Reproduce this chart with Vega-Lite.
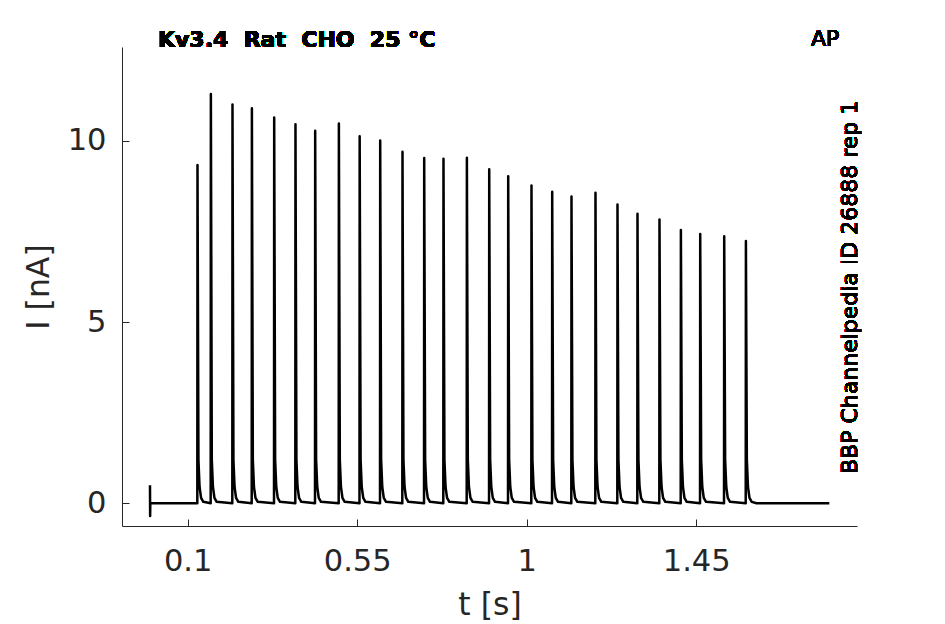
{
  "$schema": "https://vega.github.io/schema/vega-lite/v6.json",
  "autosize": {"type": "none"},
  "padding": {"left": 122, "top": 47, "right": 88, "bottom": 98},
  "width": 735,
  "height": 479,
  "background": "white",
  "config": {
    "view": {"stroke": null},
    "font": "DejaVu Sans",
    "axis": {
      "grid": false,
      "domainColor": "#262626",
      "domainWidth": 1,
      "tickColor": "#262626",
      "tickWidth": 1,
      "tickSize": -7,
      "labelColor": "#262626",
      "labelFont": "DejaVu Sans",
      "labelFontSize": 30.5,
      "titleColor": "#262626",
      "titleFont": "DejaVu Sans",
      "titleFontSize": 31.5,
      "titleFontWeight": "normal"
    }
  },
  "data": {
    "values": [
      {"t": 0, "i": 0.5}, {"t": 0.0004, "i": -0.35}, {"t": 0.0008, "i": 0},
      {"t": 0.1256, "i": 0}, {"t": 0.1261, "i": 9.34}, {"t": 0.1286, "i": 1.2}, {"t": 0.1316, "i": 0.45}, {"t": 0.1356, "i": 0.15}, {"t": 0.1416, "i": 0.04},
      {"t": 0.1611, "i": 0}, {"t": 0.1616, "i": 11.3}, {"t": 0.1641, "i": 1.2}, {"t": 0.1671, "i": 0.45}, {"t": 0.1711, "i": 0.15}, {"t": 0.1771, "i": 0.04},
      {"t": 0.2185, "i": 0}, {"t": 0.219, "i": 11.01}, {"t": 0.2215, "i": 1.2}, {"t": 0.2245, "i": 0.45}, {"t": 0.2285, "i": 0.15}, {"t": 0.2345, "i": 0.04},
      {"t": 0.27, "i": 0}, {"t": 0.2705, "i": 10.9}, {"t": 0.273, "i": 1.2}, {"t": 0.276, "i": 0.45}, {"t": 0.28, "i": 0.15}, {"t": 0.286, "i": 0.04},
      {"t": 0.3292, "i": 0}, {"t": 0.3297, "i": 10.65}, {"t": 0.3322, "i": 1.2}, {"t": 0.3352, "i": 0.45}, {"t": 0.3392, "i": 0.15}, {"t": 0.3452, "i": 0.04},
      {"t": 0.3857, "i": 0}, {"t": 0.3862, "i": 10.46}, {"t": 0.3887, "i": 1.2}, {"t": 0.3917, "i": 0.45}, {"t": 0.3957, "i": 0.15}, {"t": 0.4017, "i": 0.04},
      {"t": 0.438, "i": 0}, {"t": 0.4385, "i": 10.28}, {"t": 0.441, "i": 1.2}, {"t": 0.444, "i": 0.45}, {"t": 0.448, "i": 0.15}, {"t": 0.454, "i": 0.04},
      {"t": 0.5009, "i": 0}, {"t": 0.5014, "i": 10.48}, {"t": 0.5039, "i": 1.2}, {"t": 0.5069, "i": 0.45}, {"t": 0.5109, "i": 0.15}, {"t": 0.5169, "i": 0.04},
      {"t": 0.5561, "i": 0}, {"t": 0.5566, "i": 10.13}, {"t": 0.5591, "i": 1.2}, {"t": 0.5621, "i": 0.45}, {"t": 0.5661, "i": 0.15}, {"t": 0.5721, "i": 0.04},
      {"t": 0.6106, "i": 0}, {"t": 0.6111, "i": 10.01}, {"t": 0.6136, "i": 1.2}, {"t": 0.6166, "i": 0.45}, {"t": 0.6206, "i": 0.15}, {"t": 0.6266, "i": 0.04},
      {"t": 0.6698, "i": 0}, {"t": 0.6703, "i": 9.7}, {"t": 0.6728, "i": 1.2}, {"t": 0.6758, "i": 0.45}, {"t": 0.6798, "i": 0.15}, {"t": 0.6858, "i": 0.04},
      {"t": 0.7274, "i": 0}, {"t": 0.7279, "i": 9.53}, {"t": 0.7304, "i": 1.2}, {"t": 0.7334, "i": 0.45}, {"t": 0.7374, "i": 0.15}, {"t": 0.7434, "i": 0.04},
      {"t": 0.7786, "i": 0}, {"t": 0.7791, "i": 9.51}, {"t": 0.7816, "i": 1.2}, {"t": 0.7846, "i": 0.45}, {"t": 0.7886, "i": 0.15}, {"t": 0.7946, "i": 0.04},
      {"t": 0.8407, "i": 0}, {"t": 0.8412, "i": 9.54}, {"t": 0.8437, "i": 1.2}, {"t": 0.8467, "i": 0.45}, {"t": 0.8507, "i": 0.15}, {"t": 0.8567, "i": 0.04},
      {"t": 0.9, "i": 0}, {"t": 0.9005, "i": 9.22}, {"t": 0.903, "i": 1.2}, {"t": 0.906, "i": 0.45}, {"t": 0.91, "i": 0.15}, {"t": 0.916, "i": 0.04},
      {"t": 0.9504, "i": 0}, {"t": 0.9509, "i": 9.03}, {"t": 0.9534, "i": 1.2}, {"t": 0.9564, "i": 0.45}, {"t": 0.9604, "i": 0.15}, {"t": 0.9664, "i": 0.04},
      {"t": 1.0122, "i": 0}, {"t": 1.0127, "i": 8.77}, {"t": 1.0152, "i": 1.2}, {"t": 1.0182, "i": 0.45}, {"t": 1.0222, "i": 0.15}, {"t": 1.0282, "i": 0.04},
      {"t": 1.0672, "i": 0}, {"t": 1.0677, "i": 8.6}, {"t": 1.0702, "i": 1.2}, {"t": 1.0732, "i": 0.45}, {"t": 1.0772, "i": 0.15}, {"t": 1.0832, "i": 0.04},
      {"t": 1.1184, "i": 0}, {"t": 1.1189, "i": 8.47}, {"t": 1.1214, "i": 1.2}, {"t": 1.1244, "i": 0.45}, {"t": 1.1284, "i": 0.15}, {"t": 1.1344, "i": 0.04},
      {"t": 1.1821, "i": 0}, {"t": 1.1826, "i": 8.57}, {"t": 1.1851, "i": 1.2}, {"t": 1.1881, "i": 0.45}, {"t": 1.1921, "i": 0.15}, {"t": 1.1981, "i": 0.04},
      {"t": 1.2405, "i": 0}, {"t": 1.241, "i": 8.25}, {"t": 1.2435, "i": 1.2}, {"t": 1.2465, "i": 0.45}, {"t": 1.2505, "i": 0.15}, {"t": 1.2565, "i": 0.04},
      {"t": 1.2936, "i": 0}, {"t": 1.2941, "i": 7.99}, {"t": 1.2966, "i": 1.2}, {"t": 1.2996, "i": 0.45}, {"t": 1.3036, "i": 0.15}, {"t": 1.3096, "i": 0.04},
      {"t": 1.352, "i": 0}, {"t": 1.3525, "i": 7.83}, {"t": 1.355, "i": 1.2}, {"t": 1.358, "i": 0.45}, {"t": 1.362, "i": 0.15}, {"t": 1.368, "i": 0.04},
      {"t": 1.4088, "i": 0}, {"t": 1.4093, "i": 7.54}, {"t": 1.4118, "i": 1.2}, {"t": 1.4148, "i": 0.45}, {"t": 1.4188, "i": 0.15}, {"t": 1.4248, "i": 0.04},
      {"t": 1.4601, "i": 0}, {"t": 1.4606, "i": 7.43}, {"t": 1.4631, "i": 1.2}, {"t": 1.4661, "i": 0.45}, {"t": 1.4701, "i": 0.15}, {"t": 1.4761, "i": 0.04},
      {"t": 1.5238, "i": 0}, {"t": 1.5243, "i": 7.37}, {"t": 1.5268, "i": 1.2}, {"t": 1.5298, "i": 0.45}, {"t": 1.5338, "i": 0.15}, {"t": 1.5398, "i": 0.04},
      {"t": 1.5814, "i": 0}, {"t": 1.5819, "i": 7.24}, {"t": 1.5844, "i": 1.2}, {"t": 1.5874, "i": 0.45}, {"t": 1.5914, "i": 0.15}, {"t": 1.5974, "i": 0.04},
      {"t": 1.61, "i": 0}, {"t": 1.8033, "i": 0}
    ]
  },
  "layer": [
    {
      "mark": {"type": "line", "stroke": "black", "strokeWidth": 2.5, "strokeJoin": "round"},
      "encoding": {
        "x": {
          "field": "t",
          "type": "quantitative",
          "title": "t [s]",
          "scale": {"domain": [-0.0743, 1.8768], "nice": false, "zero": false},
          "axis": {"values": [0.1, 0.55, 1, 1.45], "format": ".2~f", "labelPadding": 27, "titlePadding": 13}
        },
        "y": {
          "field": "i",
          "type": "quantitative",
          "title": "I [nA]",
          "scale": {"domain": [-0.627, 12.594], "nice": false, "zero": false},
          "axis": {"values": [0, 5, 10], "labelPadding": 23, "titlePadding": 12}
        }
      }
    },
    {
      "mark": {"type": "text", "font": "DejaVu Sans", "fontSize": 22, "fontWeight": "bold", "fill": "black", "stroke": null, "align": "left", "baseline": "alphabetic"},
      "encoding": {
        "x": {"datum": 0.0212, "type": "quantitative"},
        "y": {"datum": 12.594, "type": "quantitative"},
        "text": {"value": "Kv3.4\u00a0 Rat\u00a0 CHO\u00a0 25 °C"}
      }
    },
    {
      "mark": {"type": "text", "font": "DejaVu Sans", "fontSize": 22, "fontWeight": "normal", "fill": "black", "stroke": null, "align": "center", "baseline": "alphabetic"},
      "encoding": {
        "x": {"datum": 1.792, "type": "quantitative"},
        "y": {"datum": 12.62, "type": "quantitative"},
        "text": {"value": "AP"}
      }
    },
    {
      "mark": {"type": "text", "font": "DejaVu Sans", "fontSize": 22, "fontWeight": "normal", "fill": "black", "stroke": null, "align": "center", "baseline": "middle", "angle": 270},
      "encoding": {
        "x": {"datum": 1.858, "type": "quantitative"},
        "y": {"datum": 5.96, "type": "quantitative"},
        "text": {"value": "BBP Channelpedia ID 26888 rep 1"}
      }
    }
  ]
}
